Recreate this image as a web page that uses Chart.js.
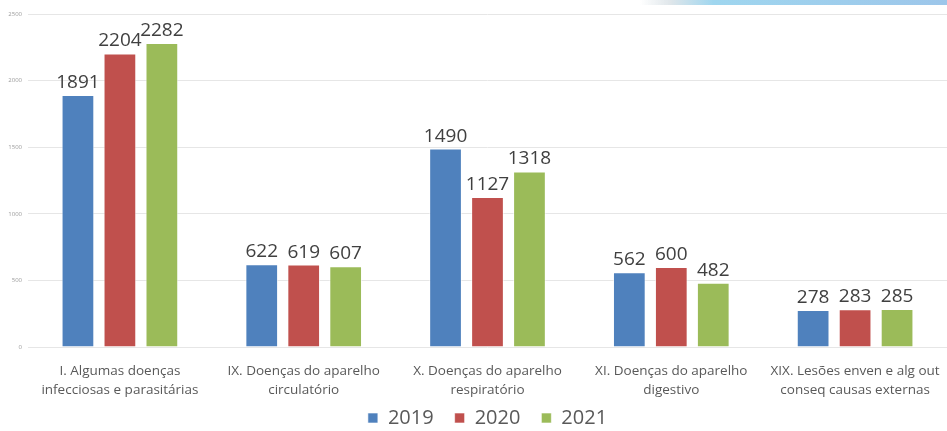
<!DOCTYPE html>
<html>
<head>
<meta charset="utf-8">
<script src="https://cdn.jsdelivr.net/npm/chart.js@4"></script>
<style>
  html, body { margin: 0; padding: 0; background: #fff; }
  #wrap { position: relative; width: 947px; height: 431px; }
  #banner { position: absolute; left: 640px; top: 0; width: 307px; height: 5px;
    background: linear-gradient(90deg, rgba(255,255,255,0) 0%, #dfe6ea 10%, #9fd6ef 24%, #9dc6ea 100%); }
</style>
</head>
<body>
<div id="wrap">
  <canvas id="chart" width="947" height="431"></canvas>
  <div id="banner"></div>
</div>
<script>
const categories = [
  ['I. Algumas doenças', 'infecciosas e parasitárias'],
  ['IX. Doenças do aparelho', 'circulatório'],
  ['X. Doenças do aparelho', 'respiratório'],
  ['XI. Doenças do aparelho', 'digestivo'],
  ['XIX. Lesões enven e alg out', 'conseq causas externas']
];
const years = ['2019', '2020', '2021'];
const values2019 = [1891, 622, 1490, 562, 278];
const values2020 = [2204, 619, 1127, 600, 283];
const values2021 = [2282, 607, 1318, 482, 285];
const yTicks = [0, 500, 1000, 1500, 2000, 2500];

const fontFamily = '"Open Sans", "Noto Sans", sans-serif';

// desenha os valores em cima das barras
const barLabels = {
  id: 'barLabels',
  afterDatasetsDraw(chart) {
    const ctx = chart.ctx;
    ctx.save();
    ctx.font = '19px ' + fontFamily;
    ctx.fillStyle = '#404040';
    ctx.textAlign = 'center';
    ctx.textBaseline = 'alphabetic';
    chart.data.datasets.forEach((ds, i) => {
      chart.getDatasetMeta(i).data.forEach((bar, j) => {
        ctx.fillText(ds.data[j], bar.x, bar.y - 7);
      });
    });
    ctx.restore();
  }
};

// legenda: caixa mais baixa no layout, desenhada um pouco acima e à direita
const legendTweak = {
  id: 'legendTweak',
  beforeInit(chart) {
    const legend = chart.legend;
    const fit = legend.fit;
    legend.fit = function () {
      fit.call(this);
      this.height = 34;
    };
    const draw = legend.draw;
    legend.draw = function (...args) {
      const saved = { top: this.top, height: this.height, left: this.left, right: this.right };
      this.top -= 10;
      this.height += 10;
      this.left += 14;
      this.right += 14;
      draw.apply(this, args);
      Object.assign(this, saved);
    };
  }
};

const ctx = document.getElementById('chart').getContext('2d');
new Chart(ctx, {
  type: 'bar',
  data: {
    labels: categories,
    datasets: [
      { label: years[0], data: values2019, backgroundColor: '#4f81bd' },
      { label: years[1], data: values2020, backgroundColor: '#c0504d' },
      { label: years[2], data: values2021, backgroundColor: '#9bbb59' }
    ].map(d => Object.assign(d, {
      borderColor: 'rgba(255,255,255,0.6)',
      borderWidth: 1,
      categoryPercentage: 0.685,
      barPercentage: 0.78
    }))
  },
  options: {
    responsive: false,
    animation: false,
    layout: { padding: { top: 14, right: 0, left: 0, bottom: 0 } },
    plugins: {
      legend: {
        position: 'bottom',
        labels: {
          boxWidth: 10,
          boxHeight: 10,
          padding: 21,
          color: '#595959',
          font: { size: 20, family: fontFamily }
        }
      },
      tooltip: { enabled: false },
      title: { display: false }
    },
    scales: {
      x: {
        grid: { display: false },
        border: { display: false },
        afterFit: (scale) => { scale.height = 50; },
        ticks: {
          color: '#595959',
          font: { size: 13.5, family: fontFamily, lineHeight: 1.4 },
          padding: 7,
          maxRotation: 0
        }
      },
      y: {
        min: 0,
        max: 2500,
        afterBuildTicks: (scale) => { scale.ticks = yTicks.map(v => ({ value: v })); },
        afterFit: (scale) => { scale.width = 28; },
        grid: { color: '#e6e6e6', drawTicks: false },
        border: { display: false },
        ticks: {
          color: '#9a9a9a',
          padding: 6,
          font: { size: 6, family: fontFamily },
          callback: (v) => String(v)
        }
      }
    }
  },
  plugins: [barLabels, legendTweak]
});
</script>
</body>
</html>
